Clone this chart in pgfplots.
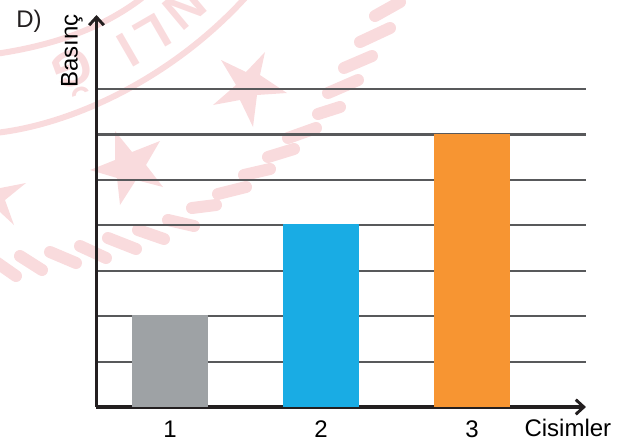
\documentclass[border=0pt]{standalone}
\usepackage{fontspec}
\setmainfont{Liberation Sans}
\usepackage{pgfplots}
\pgfplotsset{compat=1.18}
\usetikzlibrary{arrows.meta}

\definecolor{gridc}{HTML}{58595B}
\definecolor{axisc}{HTML}{231F20}
\definecolor{bargray}{HTML}{9EA2A5}
\definecolor{barblue}{HTML}{19ACE4}
\definecolor{barorange}{HTML}{F79532}
\definecolor{stamp}{HTML}{F9DBDD}

\begin{document}
\begin{tikzpicture}[x=0.75pt,y=-0.75pt]
	\path[use as bounding box] (0,0) rectangle (633,443);

	% stamp behind the chart, in pixel coordinates of the reference
	\begin{scope}
		\clip (0,0) rectangle (633,443);
		\draw[stamp,line width=4.5pt] (-5,54) .. controls (50,46) and (100,30) .. (142,-2);
		\draw[stamp,line width=4.5pt] (-5,133) .. controls (70,125) and (170,80) .. (245,-2);
		\fill[stamp] (265,52) -- (260,75) -- (287,93) -- (257,95) -- (253,127) -- (240,100) -- (213,105) -- (236,85) -- (221,60) -- (246,72) -- cycle;
		\fill[stamp] (115,131) -- (132,152) -- (160,141) -- (146,165) -- (163,187) -- (136,180) -- (120,205) -- (117,178) -- (90,170) -- (115,160) -- cycle;
		\fill[stamp] (26,183) -- (5,200) -- (14,225) -- (0,212) -- (-10,190) -- cycle;
		\foreach \a/\b/\c/\d in {-4/262/16/276, 20/256/42/270, 50/252/76/263, 80/246/106/258, 108/238/136/249, 138/230/164/239,
				168/220/194/226, 192/208/216/205, 218/194/246/187, 244/175/270/169, 268/157/294/149, 288/138/316/128,
				318/114/340/107, 328/93/358/80, 344/68/372/56, 360/42/390/28, 375/16/400/2}
			\draw[stamp,line width=9pt,line cap=round] (\a,\b) -- (\c,\d);
		\node[stamp,font=\bfseries\fontsize{38}{38}\selectfont,rotate=-160] at (74,73) {Ğ};
		\node[stamp,font=\bfseries\fontsize{38}{38}\selectfont,rotate=-150] at (128,50) {I};
		\node[stamp,font=\bfseries\fontsize{38}{38}\selectfont,rotate=-150] at (153,34) {L};
		\node[stamp,font=\bfseries\fontsize{38}{38}\selectfont,rotate=-140] at (185,8) {N};
	\end{scope}

	\begin{axis}[
		at={(72.375pt,-305.25pt)},
		anchor=south west,
		scale only axis,
		width=367.1pt,
		height=294pt,
		xmin=0.513,xmax=3.755,
		ymin=0,ymax=8.63,
		axis lines=left,
		axis line style={axisc,line width=2.8pt,-{Straight Barb[length=6pt,width=11pt,line width=2.2pt]}},
		xtick={1,2,3},
		ytick={1,2,3,4,5,6,7},
		yticklabels={},
		major tick length=0pt,
		ymajorgrids,
		grid style={gridc,line width=1.6pt},
		tick label style={font=\fontsize{18}{20}\selectfont},
		/pgf/number format/assume math mode=true,
		xticklabel style={yshift=-6pt,text height=13pt,text depth=0pt},
		xlabel={Cisimler},
		xlabel style={font=\fontsize{18}{20}\selectfont,at={(axis description cs:0.963,0)},anchor=center,yshift=-15.75pt},
		ylabel={Basınç},
		ylabel style={font=\fontsize{18}{20}\selectfont,at={(axis description cs:-0.05,0.908)},anchor=center,rotate=0},
		]
		\addplot[ybar,bar width=57pt,bar shift=0pt,fill=bargray,draw=none] coordinates {(1,2.02)};
		\addplot[ybar,bar width=57pt,bar shift=0pt,fill=barblue,draw=none] coordinates {(2,4.02)};
		\addplot[ybar,bar width=57pt,bar shift=0pt,fill=barorange,draw=none] coordinates {(3,6.02)};
	\end{axis}

	\node[font=\fontsize{18}{20}\selectfont,text=axisc] at (29,21) {D)};
\end{tikzpicture}
\end{document}
